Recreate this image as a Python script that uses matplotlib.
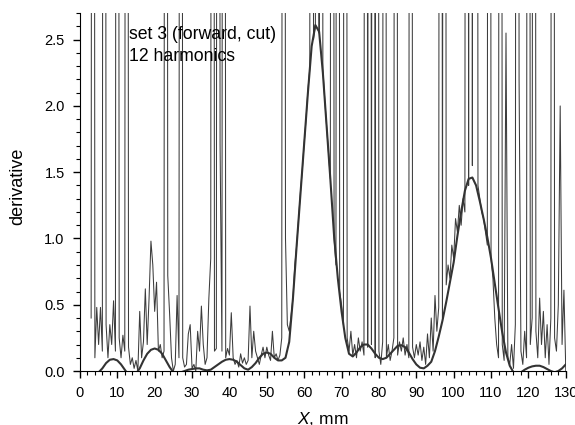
#!/usr/bin/env python3
# -*- coding: utf-8 -*-
"""Derivative profile (set 3, forward, cut) with a 12-harmonic fit."""

import matplotlib

matplotlib.use("Agg")

import matplotlib.pyplot as plt
import numpy as np

plt.rcParams["font.family"] = ["Liberation Sans", "DejaVu Sans"]
plt.rcParams["mathtext.fontset"] = "custom"
plt.rcParams["mathtext.it"] = "Liberation Sans:italic"
plt.rcParams["mathtext.rm"] = "Liberation Sans"

# measured derivative, sampled every 0.5 mm starting at X = 3.0 mm
# (values of 20 are the large spikes that run off the top of the plot)
NOISY_X0 = 3.0
NOISY_STEP = 0.5
noisy_y = [
    0.40, 20, 0.10, 0.48, 0.20, 0.48, 0.15, 20, 0.35, 0.10,          # 3.0 - 7.5
    0.35, 0.20, 0.53, 0.15, 20, 0.25, 0.10, 0.27, 0.15, 20,          # 8.0 - 12.5
    0.18, 0.05, 0.10, 0.02, 0.08, 0.00, 0.45, 0.10, 0.22, 0.62,      # 13.0 - 17.5
    0.20, 0.55, 0.98, 0.80, 0.45, 0.67, 0.15, 0.20, 0.10, 0.15,      # 18.0 - 22.5
    20, 0.72, 0.43, 0.10, 0.00, 0.05, 0.57, 0.10, 20, 0.10,          # 23.0 - 27.5
    0.03, 0.05, 0.28, 0.35, 0.02, 0.05, 0.00, 0.30, 0.15, 0.49,      # 28.0 - 32.5
    0.20, 0.05, 0.10, 0.55, 0.85, 20, 0.15, 0.17, 20, 1.71,          # 33.0 - 37.5
    0.15, 20, 0.10, 0.17, 0.12, 0.44, 0.10, 0.05, 0.08, 0.03,        # 38.0 - 42.5
    0.13, 0.06, 0.10, 0.05, 0.08, 0.49, 0.10, 0.30, 0.15, 0.10,      # 43.0 - 47.5
    0.05, 0.12, 0.18, 0.10, 0.18, 0.12, 0.08, 0.30, 0.10, 0.13,      # 48.0 - 52.5
    0.08, 0.12, 0.25, 20, 1.00, 0.35, 0.30, 0.42, 0.55, 0.80,        # 53.0 - 57.5
    0.95, 1.15, 1.35, 1.52, 1.72, 1.90, 2.12, 2.28, 20, 2.50,        # 58.0 - 62.5
    2.62, 20, 2.55, 20, 2.28, 2.05, 1.85, 1.65, 1.45, 20,            # 63.0 - 67.5
    1.00, 0.80, 20, 0.60, 0.50, 0.35, 20, 0.25, 0.15, 0.30,          # 68.0 - 72.5
    0.12, 0.20, 0.10, 0.25, 0.15, 0.22, 0.12, 20, 0.18, 20,          # 73.0 - 77.5
    0.20, 20, 0.10, 20, 0.15, 0.05, 0.22, 20, 0.10, 0.20,            # 78.0 - 82.5
    0.08, 0.15, 0.25, 20, 0.12, 0.22, 0.15, 0.25, 0.12, 0.20,        # 83.0 - 87.5
    0.10, 20, 0.18, 0.10, 0.20, 0.12, 0.22, 0.08, 0.18, 0.05,        # 88.0 - 92.5
    0.28, 0.10, 0.40, 0.15, 0.57, 0.30, 0.48, 20, 0.40, 20,          # 93.0 - 97.5
    0.65, 0.80, 0.70, 0.95, 0.85, 1.15, 1.05, 1.25, 1.10, 1.30,      # 98.0 - 102.5
    1.20, 20, 1.40, 20, 1.55, 20, 20, 1.40, 1.30, 1.20,              # 103.0 - 107.5
    1.15, 1.05, 0.95, 20, 0.85, 0.70, 0.40, 0.20, 0.10, 20,          # 108.0 - 112.5
    0.20, 0.08, 2.55, 0.10, 0.05, 0.20, 0.02, 0.35, 20, 2.20,        # 113.0 - 117.5
    0.15, 0.05, 0.30, 0.10, 20, 0.20, 0.40, 20, 0.30, 0.10,          # 118.0 - 122.5
    0.55, 0.20, 0.45, 0.10, 0.35, 0.05, 0.40, 20, 0.25, 0.15,        # 123.0 - 127.5
    0.50, 2.00, 0.20, 0.61, 0.00,                                    # 128.0 - 130.0
]

# 12-harmonic fit, read every 1 mm from X = 0 to 130
fit_y = [
    -0.05, -0.08, -0.09, -0.07, -0.04, -0.01, 0.02, 0.06, 0.085, 0.09,   # 0 - 9
    0.08, 0.05, 0.01, -0.03, -0.04, -0.02, 0.02, 0.08, 0.13, 0.16,       # 10 - 19
    0.17, 0.16, 0.13, 0.08, 0.03, -0.01, -0.02, -0.01, 0.00, 0.01,       # 20 - 29
    0.015, 0.02, 0.02, 0.01, 0.005, 0.01, 0.03, 0.05, 0.07, 0.085,       # 30 - 39
    0.09, 0.085, 0.07, 0.045, 0.02, 0.01, 0.03, 0.06, 0.10, 0.13,        # 40 - 49
    0.14, 0.13, 0.10, 0.08, 0.08, 0.10, 0.22, 0.55, 0.95, 1.33,          # 50 - 59
    1.70, 2.10, 2.45, 2.61, 2.56, 2.25, 1.85, 1.45, 1.02, 0.70,          # 60 - 69
    0.45, 0.25, 0.13, 0.11, 0.14, 0.18, 0.20, 0.20, 0.17, 0.13,          # 70 - 79
    0.10, 0.09, 0.10, 0.13, 0.16, 0.19, 0.195, 0.18, 0.14, 0.09,         # 80 - 89
    0.05, 0.025, 0.02, 0.04, 0.07, 0.15, 0.26, 0.38, 0.52, 0.67,         # 90 - 99
    0.82, 1.02, 1.20, 1.36, 1.45, 1.46, 1.40, 1.28, 1.15, 1.01,          # 100 - 109
    0.85, 0.66, 0.47, 0.29, 0.14, 0.04, -0.01, -0.02, -0.01, 0.01,       # 110 - 119
    0.025, 0.035, 0.04, 0.04, 0.03, 0.015, 0.00, -0.01, 0.00, 0.02,      # 120 - 129
    0.05,                                                                # 130
]


def main() -> None:
    noisy_x = NOISY_X0 + NOISY_STEP * np.arange(len(noisy_y))
    fit_x = np.arange(len(fit_y), dtype=float)

    fig = plt.figure(figsize=(5.75, 4.25), dpi=100)
    ax = fig.add_axes([0.139, 0.127, 0.845, 0.842])

    ax.plot(noisy_x, noisy_y, color="#3c3c3c", linewidth=0.75)
    ax.plot(fit_x, fit_y, color="#333333", linewidth=1.5)

    ax.set_xlim(0, 130)
    ax.set_ylim(0, 2.7)
    ax.set_xticks(np.arange(0, 131, 10))
    ax.set_xticks(np.arange(0, 131, 2), minor=True)
    ax.set_yticks([0.0, 0.5, 1.0, 1.5, 2.0, 2.5])
    ax.set_yticks(np.arange(0, 2.71, 0.1), minor=True)
    ax.yaxis.set_major_formatter(matplotlib.ticker.FormatStrFormatter("%.1f"))

    for side in ("top", "right"):
        ax.spines[side].set_visible(False)
    ax.tick_params(which="major", direction="out", length=5, width=1.0, labelsize=10.5, pad=6)
    ax.tick_params(which="minor", direction="out", length=3, width=0.8)

    ax.set_xlabel(r"$\it{X}$, mm", fontsize=12.5)
    ax.xaxis.set_label_coords(0.5, -0.108)
    ax.set_ylabel("derivative", fontsize=13)
    ax.yaxis.set_label_coords(-0.11, 0.516)

    ax.text(0.101, 0.963, "set 3 (forward, cut)\n12 harmonics", transform=ax.transAxes,
            ha="left", va="top", fontsize=12.7, linespacing=1.35)

    fig.savefig("out.png", dpi=100)
    plt.close(fig)


if __name__ == "__main__":
    main()
